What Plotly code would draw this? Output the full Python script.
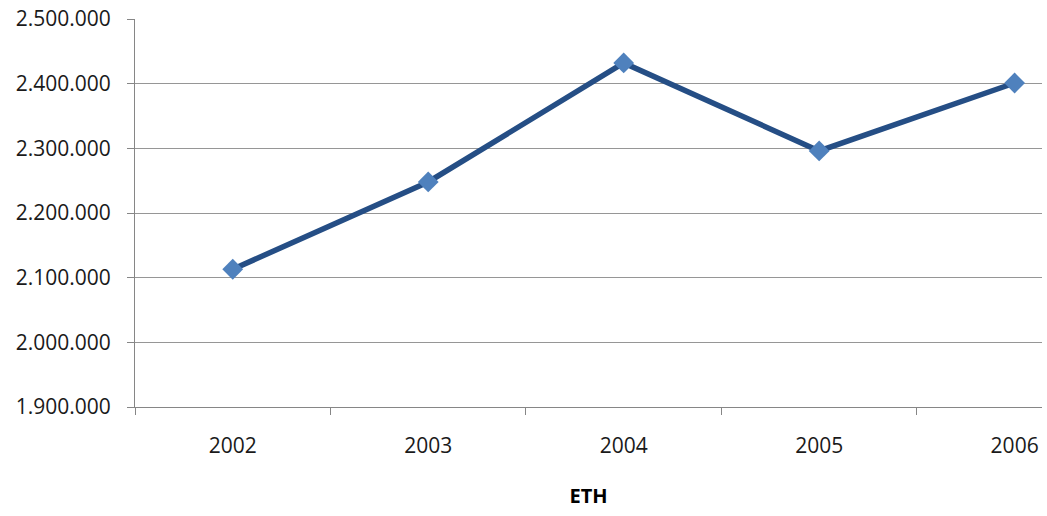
import plotly.graph_objects as go

years = ["2002", "2003", "2004", "2005", "2006"]
values = [2113000, 2248000, 2432000, 2296000, 2401000]
y_ticks = [1900000, 2000000, 2100000, 2200000, 2300000, 2400000, 2500000]

fig = go.Figure()
fig.add_trace(go.Scatter(
    x=years, y=values, mode="lines+markers",
    line=dict(color="#254E85", width=5.5),
    marker=dict(symbol="diamond", size=16, color="#4F81BD"),
    showlegend=False,
))

font = "'Open Sans', sans-serif"
fig.update_layout(
    width=1047, height=516,
    margin=dict(l=135, r=5, t=19, b=109),
    paper_bgcolor="white", plot_bgcolor="white",
    separators=",.",
    font=dict(family=font, size=21, color="#000000"),
    xaxis=dict(
        type="category", range=[-0.5, 4.14],
        showgrid=False, showline=True, linecolor="#868686", linewidth=1,
        ticks="outside", tickson="boundaries", ticklen=7, tickcolor="#868686",
        tickfont=dict(size=21, color="#1a1a1a"), zeroline=False,
        ticklabelstandoff=20,
        title=dict(text="<b>ETH</b>", font=dict(size=20), standoff=30),
    ),
    yaxis=dict(
        range=[1900000, 2500000], tickvals=y_ticks, tickformat=",d",
        showgrid=True, gridcolor="#969696", gridwidth=1,
        showline=True, linecolor="#868686", linewidth=1,
        ticks="outside", ticklen=7, tickcolor="#868686",
        tickfont=dict(size=21, color="#1a1a1a"), zeroline=False,
        ticklabelstandoff=12,
    ),
)

fig.write_html("out.html")
